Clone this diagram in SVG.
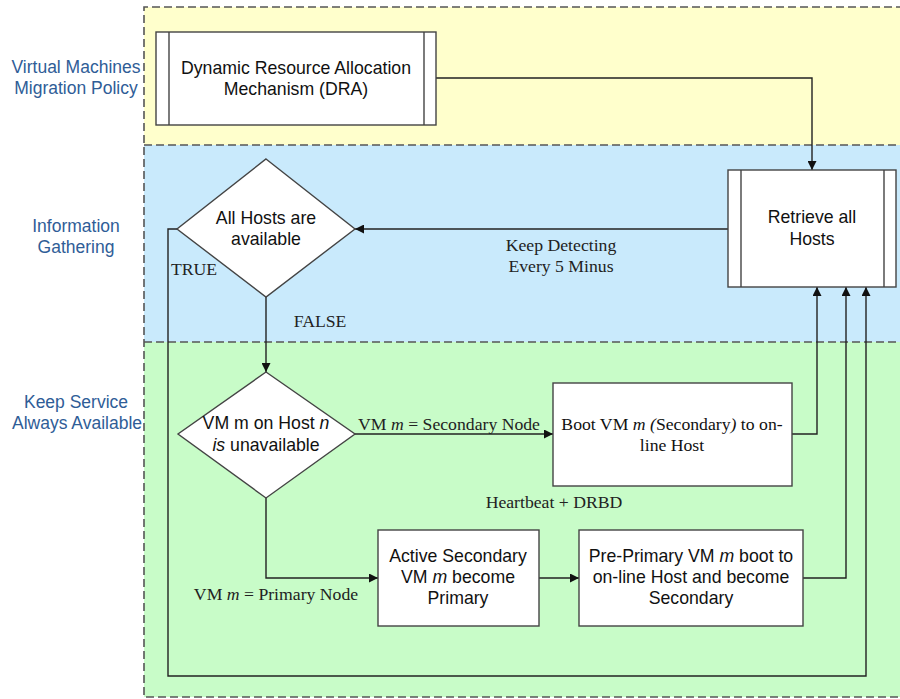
<svg xmlns="http://www.w3.org/2000/svg" width="900" height="699" viewBox="0 0 900 699">
  <defs>
    <marker id="arrow" viewBox="0 0 10 10" refX="10" refY="5" markerWidth="10" markerHeight="9" markerUnits="userSpaceOnUse" orient="auto">
      <path d="M0,0 L10,5 L0,10 Z" fill="#111"/>
    </marker>
    <style>
      .lane-border { fill: none; stroke: #555; stroke-width: 1.6; stroke-dasharray: 8 4; }
      .lane-label { font-family: "Liberation Sans", Arial, sans-serif; font-size: 17.5px; fill: #2f5d97; text-anchor: middle; }
      .box { fill: #fff; stroke: #444; stroke-width: 1.4; }
      .rule { stroke: #444; stroke-width: 1.4; }
      .sans { font-family: "Liberation Sans", Arial, sans-serif; font-size: 17.7px; fill: #111; text-anchor: middle; }
      .serif { font-family: "Liberation Serif", "Times New Roman", serif; font-size: 17.7px; fill: #222; text-anchor: middle; }
      .edge { fill: none; stroke: #222; stroke-width: 1.4; }
    </style>
  </defs>

  <rect width="900" height="699" fill="#fff"/>

  <!-- swimlanes -->
  <g id="lanes">
    <rect x="144" y="7" width="760" height="138" fill="#ffffcc"/>
    <rect x="144" y="145" width="760" height="197" fill="#c9eafc"/>
    <rect x="144" y="342" width="760" height="355" fill="#c8fcc8"/>
    <path class="lane-border" d="M904,7 H144 V697 H904 M144,145 H904 M144,342 H904"/>
    <text class="lane-label" x="76" y="73">Virtual Machines</text>
    <text class="lane-label" x="76" y="94">Migration Policy</text>
    <text class="lane-label" x="76" y="232">Information</text>
    <text class="lane-label" x="76" y="253">Gathering</text>
    <text class="lane-label" x="76" y="408">Keep Service</text>
    <text class="lane-label" x="77" y="429">Always Available</text>
  </g>

  <!-- connectors -->
  <g id="connectors">
    <path class="edge" marker-end="url(#arrow)" d="M436,78 H812 V170"/>
    <path class="edge" marker-end="url(#arrow)" d="M728,229 H355"/>
    <path class="edge" marker-end="url(#arrow)" d="M177,229 H168 V676 H866 V287"/>
    <path class="edge" marker-end="url(#arrow)" d="M266,297 V372"/>
    <path class="edge" marker-end="url(#arrow)" d="M355,434 H553"/>
    <path class="edge" marker-end="url(#arrow)" d="M792,434 H817 V287"/>
    <path class="edge" marker-end="url(#arrow)" d="M266,498 V578 H378"/>
    <path class="edge" marker-end="url(#arrow)" d="M539,578 H579"/>
    <path class="edge" marker-end="url(#arrow)" d="M803,578 H846 V287"/>
    <text class="serif" x="561" y="251">Keep Detecting</text>
    <text class="serif" x="561" y="272">Every 5 Minus</text>
    <text class="serif" x="194" y="275">TRUE</text>
    <text class="serif" x="320" y="327">FALSE</text>
    <text class="serif" x="449" y="430">VM <tspan font-style="italic">m</tspan> = Secondary Node</text>
    <text class="serif" x="554" y="508">Heartbeat + DRBD</text>
    <text class="serif" x="276" y="600">VM <tspan font-style="italic">m</tspan> = Primary Node</text>
  </g>

  <g id="dra">
    <rect class="box" x="156" y="32" width="280" height="93"/>
    <line class="rule" x1="169" y1="32" x2="169" y2="125"/>
    <line class="rule" x1="424" y1="32" x2="424" y2="125"/>
    <text class="sans" x="296" y="74">Dynamic Resource Allocation</text>
    <text class="sans" x="296" y="95">Mechanism (DRA)</text>
  </g>

  <g id="retrieve">
    <rect class="box" x="728" y="170" width="168" height="117"/>
    <line class="rule" x1="741" y1="170" x2="741" y2="287"/>
    <line class="rule" x1="884" y1="170" x2="884" y2="287"/>
    <text class="sans" x="812" y="223">Retrieve all</text>
    <text class="sans" x="812" y="245">Hosts</text>
  </g>

  <g id="hosts-available">
    <polygon class="box" points="266,159 355,229 266,297 177,229"/>
    <text class="sans" x="266" y="224">All Hosts are</text>
    <text class="sans" x="266" y="245">available</text>
  </g>

  <g id="vm-unavailable">
    <polygon class="box" points="266,372 355,434 266,498 178,434"/>
    <text class="sans" x="266" y="429">VM m on Host <tspan font-style="italic">n</tspan></text>
    <text class="sans" x="266" y="451"><tspan font-style="italic">is</tspan> unavailable</text>
  </g>

  <g id="boot-secondary">
    <rect class="box" x="553" y="383" width="239" height="103"/>
    <text class="serif" x="672" y="430" style="fill:#111">Boot VM <tspan font-style="italic">m (</tspan>Secondary<tspan font-style="italic">)</tspan> to on-</text>
    <text class="serif" x="672" y="451" style="fill:#111">line Host</text>
  </g>

  <g id="active-secondary">
    <rect class="box" x="378" y="530" width="161" height="96"/>
    <text class="sans" x="458" y="562">Active Secondary</text>
    <text class="sans" x="458" y="583">VM <tspan font-style="italic">m</tspan> become</text>
    <text class="sans" x="458" y="604">Primary</text>
  </g>

  <g id="pre-primary">
    <rect class="box" x="579" y="530" width="224" height="96"/>
    <text class="sans" x="691" y="562">Pre-Primary VM <tspan font-style="italic">m</tspan> boot to</text>
    <text class="sans" x="691" y="583">on-line Host and become</text>
    <text class="sans" x="691" y="604">Secondary</text>
  </g>
</svg>
